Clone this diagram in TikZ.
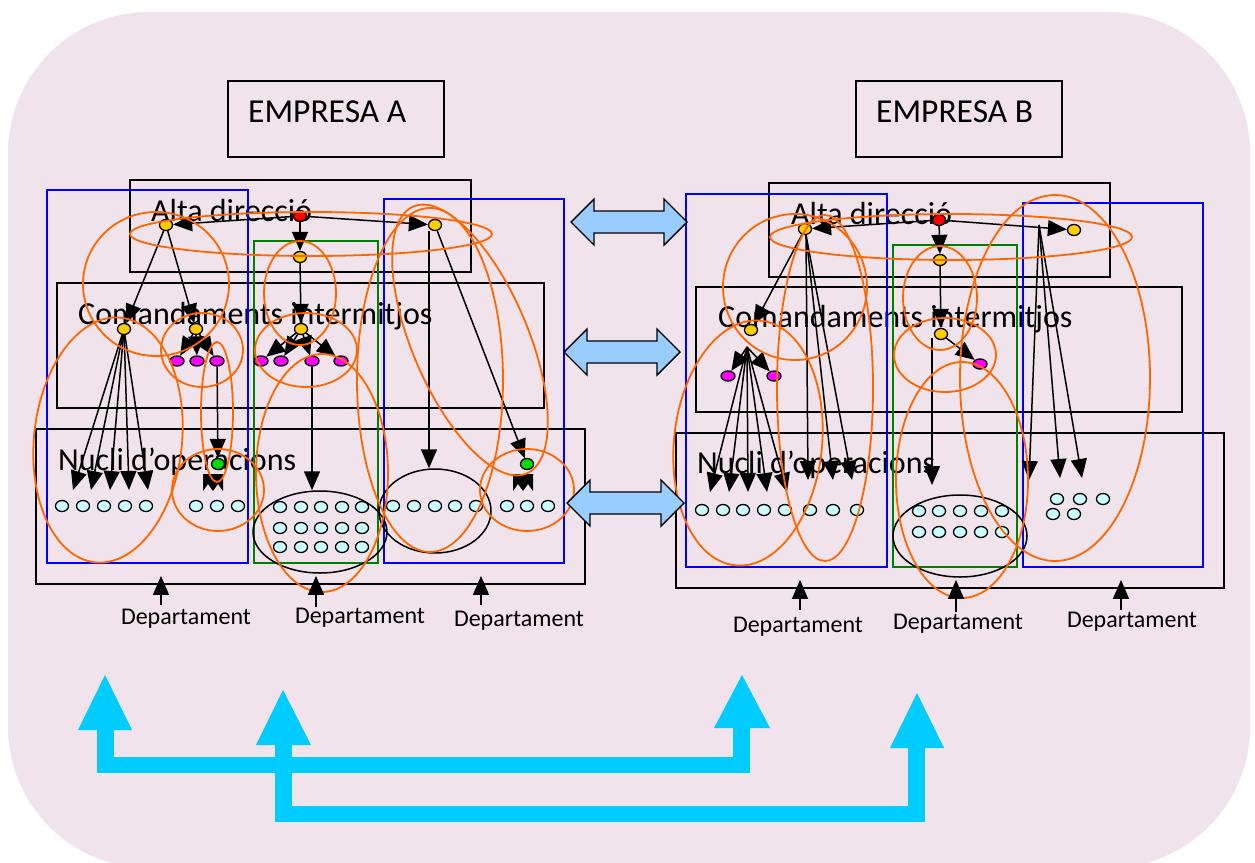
\documentclass[tikz,border=0pt]{standalone}
\usepackage{fontspec}
\setmainfont{Carlito}
\usetikzlibrary{shapes.geometric, arrows.meta, fit}

\definecolor{bgc}{HTML}{F0E3EC}
\definecolor{orc}{HTML}{FF6600}
\definecolor{blc}{HTML}{0000FF}
\definecolor{gnc}{HTML}{008000}
\definecolor{arrc}{HTML}{99CCFF}
\definecolor{cyc}{HTML}{00CCFF}
\definecolor{dotc}{HTML}{CCFFFF}
\definecolor{yelc}{HTML}{FFCC00}
\definecolor{magc}{HTML}{FF00FF}
\definecolor{grc}{HTML}{00DD00}

% light-blue double arrow between the two firms: left tip, right tip, axis
\newcommand\dblarr[3]{%
  \filldraw[fill=arrc, draw=black, line width=1.4pt]
    (#1,#3) -- (#1+23,#3-23) -- (#1+23,#3-11) -- (#2-23,#3-11) -- (#2-23,#3-23)
    -- (#2,#3) -- (#2-23,#3+23) -- (#2-23,#3+11) -- (#1+23,#3+11) -- (#1+23,#3+23) -- cycle;}
% pair of merged arrow heads under a green point
\newcommand\tiepair[2]{%
  \fill (#1-10,#2-8) -- (#1+10,#2-8) -- (#1+10,#2+9) -- (#1+5,#2+2) -- (#1,#2+9)
    -- (#1-5,#2+2) -- (#1-10,#2+9) -- cycle;}

\begin{document}
\begin{tikzpicture}[x=1pt,y=-1pt,
  box/.style={draw=black, line width=1.8pt, inner sep=0pt},
  bluebox/.style={draw=blc, line width=1.8pt},
  greenbox/.style={draw=gnc, line width=1.8pt},
  org/.style={draw=orc, line width=1.8pt},
  arr/.style={-{Triangle[length=19pt,width=16pt]}, line width=1.5pt},
  pt/.style={ellipse, draw=black, line width=1.3pt, inner sep=0pt, minimum width=13pt, minimum height=11pt},
  cy/.style={pt, fill=dotc},
  yl/.style={pt, fill=yelc},
  mg/.style={pt, fill=magc, minimum width=14pt, minimum height=10pt},
  rd/.style={pt, fill=red},
  gr/.style={pt, fill=grc},
  grp/.style={ellipse, draw=black, line width=1.5pt, inner sep=0pt},
  big/.style={inner sep=0pt, anchor=base west, font=\fontsize{32}{36}\selectfont},
  ttl/.style={inner sep=0pt, anchor=base west, font=\fontsize{33.5}{36}\selectfont},
  dep/.style={inner sep=0pt, anchor=base, font=\fontsize{24}{28}\selectfont},
]
\useasboundingbox (0,0) rectangle (1255,862);
\fill[bgc, rounded corners=141pt] (8,12) rectangle (1250,868);

% ---------- titles ----------
\node[box, fit={(228,81)(444,157)}] (tA) {};
\node[ttl] (tAl) at (248,122) {EMPRESA A};
\node[box, fit={(856,81)(1062,157)}] (tB) {};
\node[ttl] (tBl) at (876,122) {EMPRESA B};

% ================= EMPRESA A =================
\node[box, fit={(130,180)(471,272)}] (aAlta) {};
\node[box, fit={(57,283)(544,408)}] (aCom) {};
\node[box, fit={(36,429)(585,584)}] (aNuc) {};
\node[big] at (151,221) {Alta direcció};
\node[big] at (78,324) {Comandaments intermitjos};
\node[big] at (58,470) {Nucli d’operacions};
\draw[bluebox] (47,190) rectangle (248,563);
\draw[greenbox] (254,241) rectangle (378,563);
\draw[bluebox] (384,199) rectangle (564,563);

% groups of operators
\node[grp, minimum width=134pt, minimum height=82pt] (aEll1) at (320,532) {};
\node[grp, minimum width=112pt, minimum height=84pt] (aEll2) at (435,511) {};

% points
\node[rd] (aR) at (300,216) {};
\node[yl] (aY1) at (166,225) {};
\node[yl] (aY2) at (300,257) {};
\node[yl] (aY3) at (435,225) {};
\node[yl] (aY4) at (124,329) {};
\node[yl] (aY5) at (196,329) {};
\node[yl] (aY6) at (301,329) {};
\foreach \x [count=\i] in {177,197,217,261,281,312,341}
  \node[mg] (aM\i) at (\x,361) {};
\node[gr] (aG1) at (218,464) {};
\node[gr] (aG2) at (527,464) {};
\foreach \x [count=\i] in {62,83,104,125,146,196,217,238}
  \node[cy] (aD\i) at (\x,506) {};
\foreach \x [count=\i] in {280,301,321,342,362}
  \foreach \y [count=\j] in {507,528,547}
    \node[cy] (aE\i\j) at (\x,\y) {};
\foreach \x [count=\i] in {393,414,435,455,476,507,527,548}
  \node[cy] (aF\i) at (\x,506) {};

% links
\draw[arr] (aR) -- (aY1);
\draw[arr] (aR) -- (aY3);
\draw[arr] (aR) -- (aY2);
\draw[arr] (aY2) -- (aY6);
\foreach \i in {4,5,6,7} \draw[arr] (aY6) -- (aM\i);
\draw[arr] (aY1) -- (aY4);
\draw[arr] (aY1) -- (aY5);
\foreach \i in {1,2,3} \draw[arr] (aY5) -- (aM\i);
\draw[arr] (aM3) -- (aG1);
\foreach \x [count=\i] in {73,91,110,129,148} {
  \coordinate (aT\i) at (\x,490);
  \draw[arr] (aY4) -- (aT\i);
}
\draw[arr] (aM6) -- (aM6 |- aEll1.north);
\coordinate (aV) at (429,231);
\draw[arr] (aV) -- (aV |- aEll2.north);
\draw[arr] (aY3) -- (aG2);
\tiepair{213}{482}
\tiepair{523}{482}

% coordination loops
\begin{scope}[org]
\draw (311,234) ellipse [x radius=181, y radius=22];
\draw (156,284) ellipse [x radius=73, y radius=72];
\draw (202,350) ellipse [x radius=41, y radius=37];
\draw[rotate around={-6:(108,440)}] (108,440) ellipse [x radius=74, y radius=123];
\draw (217,412) ellipse [x radius=16, y radius=70];
\draw (218,490) ellipse [x radius=46, y radius=41];
\draw (300,293) ellipse [x radius=36, y radius=52];
\draw (306,350) ellipse [x radius=51, y radius=37];
\draw (322,473) ellipse [x radius=66, y radius=119];
\draw (430,380) ellipse [x radius=73, y radius=172];
\draw[rotate around={23:(470,340)}] (470,340) ellipse [x radius=58, y radius=145];
\draw (527,490) ellipse [x radius=47, y radius=41];
\end{scope}

% departments
\node[dep] (aDp1) at (186,624) {Departament};
\node[dep] (aDp2) at (360,623) {Departament};
\node[dep] (aDp3) at (519,626) {Departament};
\foreach \x/\y [count=\i] in {161/605, 316/607, 481/605} {
  \coordinate (aDt\i) at (\x,\y);
  \draw[arr, shorten >=-9pt] (aDt\i) -- (aDt\i |- aNuc.south);
}

% ================= EMPRESA B =================
\node[box, fit={(769,183)(1110,277)}] (bAlta) {};
\node[box, fit={(696,287)(1182,412)}] (bCom) {};
\node[box, fit={(676,433)(1224,588)}] (bNuc) {};
\node[big] at (791,224) {Alta direcció};
\node[big] at (718,327) {Comandaments intermitjos};
\node[big] at (697,473) {Nucli d’operacions};
\draw[bluebox] (686,194) rectangle (887,567);
\draw[greenbox] (893,245) rectangle (1017,567);
\draw[bluebox] (1023,203) rectangle (1203,567);

\node[grp, minimum width=134pt, minimum height=82pt] (bEll) at (960,536) {};

\node[rd] (bR) at (939,220) {};
\node[yl] (bY1) at (805,229) {};
\node[yl] (bY2) at (940,260) {};
\node[yl] (bY3) at (1074,230) {};
\node[yl] (bY4) at (751,330) {};
\node[yl] (bY5) at (941,334) {};
\node[mg] (bM1) at (728,376) {};
\node[mg] (bM2) at (774,376) {};
\node[mg] (bM3) at (980,364) {};
\foreach \x [count=\i] in {702,723,743,764,785,810,833,857}
  \node[cy] (bD\i) at (\x,510) {};
\foreach \x [count=\i] in {919,939,960,981,1002}
  \foreach \y [count=\j] in {511,532}
    \node[cy] (bE\i\j) at (\x,\y) {};
\foreach \x/\y [count=\i] in {1057/499, 1080/499, 1103/499, 1053/514, 1074/514}
  \node[cy] (bF\i) at (\x,\y) {};

\draw[arr] (bR) -- (bY1);
\draw[arr] (bR) -- (bY3);
\draw[arr] (bR) -- (bY2);
\draw[arr] (bY2) -- (bY5);
\draw[arr] (bY5) -- (bM3);
\coordinate (bV) at (932,338);
\coordinate (bVt) at (932,485);
\draw[arr] (bV) -- (bVt);
\draw[arr] (bY1) -- (bY4);
\coordinate (bU) at (806,235);
\foreach \x [count=\i] in {808,833,852} {
  \coordinate (bUt\i) at (\x,480);
  \draw[arr] (bU) -- (bUt\i);
}
\coordinate (bO) at (747,347);
\draw[arr] (bO) -- (bM1);
\draw[arr] (bO) -- (bM2);
\foreach \x [count=\i] in {710,729,748,767,787} {
  \coordinate (bT\i) at (\x,492);
  \draw[arr] (bO) -- (bT\i);
}
\coordinate (bP) at (1039,225);
\foreach \x/\y [count=\i] in {1029/480, 1060/478, 1082/478} {
  \coordinate (bPt\i) at (\x,\y);
  \draw[arr] (bP) -- (bPt\i);
}

\begin{scope}[org]
\draw (951,237) ellipse [x radius=181, y radius=23];
\draw (795,287) ellipse [x radius=72, y radius=73];
\draw[rotate around={-6:(748,443)}] (748,443) ellipse [x radius=74, y radius=123];
\draw (825,388) ellipse [x radius=48, y radius=173];
\draw (940,298) ellipse [x radius=37, y radius=52];
\draw (945,355) ellipse [x radius=51, y radius=37];
\draw (962,480) ellipse [x radius=66, y radius=118];
\draw (1055,378) ellipse [x radius=95, y radius=183];
\end{scope}

\node[dep] (bDp1) at (798,632) {Departament};
\node[dep] (bDp2) at (958,629) {Departament};
\node[dep] (bDp3) at (1132,627) {Departament};
\foreach \x/\y [count=\i] in {800/610, 956/612, 1121/610} {
  \coordinate (bDt\i) at (\x,\y);
  \draw[arr, shorten >=-9pt] (bDt\i) -- (bDt\i |- bNuc.south);
}

% ---------- exchanges between the firms ----------
\dblarr{571}{687}{222}
\dblarr{564}{680}{352}
\dblarr{567}{684}{503}

% ---------- cross links at the bottom ----------
\begin{scope}[cyc]
\fill (97,728) rectangle (114,773);
\fill (97,757) rectangle (750,773);
\fill (733,728) rectangle (750,773);
\fill (78,730) -- (132,730) -- (105,675) -- cycle;
\fill (714,728) -- (770,728) -- (742,675) -- cycle;
\fill (275,745) rectangle (292,822);
\fill (275,806) rectangle (925,822);
\fill (908,748) rectangle (925,822);
\fill (256,745) -- (311,745) -- (283,690) -- cycle;
\fill (890,748) -- (944,748) -- (917,693) -- cycle;
\end{scope}
\end{tikzpicture}
\end{document}
